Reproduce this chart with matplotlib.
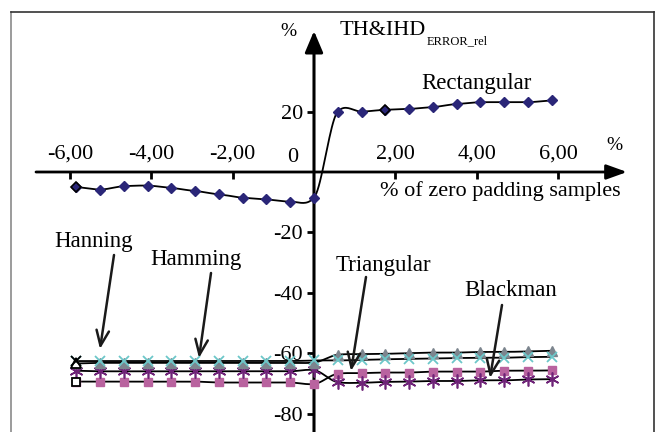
import matplotlib
matplotlib.use("Agg")
import matplotlib.pyplot as plt
from matplotlib.lines import Line2D
import numpy as np

plt.rcParams['font.family'] = ['Liberation Serif', 'DejaVu Serif']

# x positions: % of zero padding samples (21 points, -10..10 steps)
x = np.arange(-10, 11) * 0.584

rectangular = [-5.0, -5.8, -4.7, -4.5, -5.3, -6.3, -7.4, -8.5, -9.1, -9.8, -8.5,
               20.0, 20.0, 20.6, 20.9, 21.5, 22.5, 23.1, 23.1, 23.1, 23.7]
hanning = [-62.6, -62.6, -62.6, -62.6, -62.6, -62.6, -62.6, -62.6, -62.6, -62.6, -62.4,
           -62.4, -62.2, -62.0, -61.9, -61.8, -61.6, -61.5, -61.5, -61.3, -61.2]
hamming = [-63.4, -63.2, -63.2, -63.2, -63.2, -63.2, -63.2, -63.2, -63.2, -63.2, -63.1,
           -60.5, -60.3, -60.2, -60.0, -59.8, -59.8, -59.6, -59.6, -59.4, -59.2]
triangular = [-69.4, -69.4, -69.4, -69.4, -69.4, -69.4, -69.7, -69.7, -69.7, -69.7, -70.2,
              -66.8, -66.6, -66.4, -66.4, -66.1, -66.1, -66.1, -65.8, -65.8, -65.7]
blackman = [-65.8, -66.0, -66.0, -66.0, -66.0, -66.0, -66.0, -66.0, -66.0, -66.0, -65.6,
            -69.6, -69.8, -69.5, -69.4, -69.2, -69.2, -69.0, -69.0, -68.7, -68.6]

x_ticks = [-6, -4, -2, 2, 4, 6]
x_tick_labels = ["-6,00", "-4,00", "-2,00", "2,00", "4,00", "6,00"]
y_ticks = [20, -20, -40, -60, -80]
y_tick_labels = ["20", "-20", "-40", "-60", "-80"]


def smooth(xs, ys, n=20, tension=0.6):
    # cardinal spline through the points, like excel smoothed lines
    xs = np.asarray(xs, float)
    ys = np.asarray(ys, float)
    px = np.concatenate([[2 * xs[0] - xs[1]], xs, [2 * xs[-1] - xs[-2]]])
    py = np.concatenate([[2 * ys[0] - ys[1]], ys, [2 * ys[-1] - ys[-2]]])
    outx, outy = [], []
    t = np.linspace(0, 1, n, endpoint=False)
    for i in range(1, len(px) - 2):
        p0, p1, p2, p3 = py[i - 1], py[i], py[i + 1], py[i + 2]
        m1 = tension * (p2 - p0) / 2
        m2 = tension * (p3 - p1) / 2
        h00 = 2 * t**3 - 3 * t**2 + 1
        h10 = t**3 - 2 * t**2 + t
        h01 = -2 * t**3 + 3 * t**2
        h11 = t**3 - t**2
        outy.extend(h00 * p1 + h10 * m1 + h01 * p2 + h11 * m2)
        outx.extend(px[i] + t * (px[i + 1] - px[i]))
    outx.append(xs[-1])
    outy.append(ys[-1])
    return np.array(outx), np.array(outy)


W, H = 660, 432
x0_px, y0_px = 314, 172
sx, sy = 40.67, 3.02

fig = plt.figure(figsize=(6.6, 4.32), dpi=100)
ax = fig.add_axes([0, 0, 1, 1])
ax.set_xlim(-x0_px / sx, (W - x0_px) / sx)
ax.set_ylim(-(H - y0_px) / sy, y0_px / sy)

# lines
for ys in [hanning, hamming, triangular, blackman, rectangular]:
    cx, cy = smooth(x, ys)
    ax.plot(cx, cy, color='black', lw=1.3, zorder=3)

ax.plot(x, triangular, ls='none', marker='s', ms=6, color='#b9639f', zorder=4)
ax.plot(x, blackman, ls='none', marker=(6, 2, 0), ms=10, mew=1.2, color='#6e2377', zorder=4)
ax.plot(x, hamming, ls='none', marker='^', ms=7, color='#7c858e', zorder=4)
ax.plot(x, hanning, ls='none', marker='x', ms=7, mew=1.3, color='#6cc7c9', zorder=5)
ax.plot(x, rectangular, ls='none', marker='D', ms=5.5, color='#2a2678', zorder=5)

# highlighted points
ax.plot(x[0], hamming[0], ls='none', marker='^', ms=7, mfc='white', mec='black', mew=1.3, zorder=6)
ax.plot(x[0], triangular[0], ls='none', marker='s', ms=6, mfc='white', mec='black', mew=1.3, zorder=6)
ax.plot(x[0], hanning[0], ls='none', marker='x', ms=7, mew=1.3, color='black', zorder=6)
ax.plot([x[0], x[13]], [rectangular[0], rectangular[13]], ls='none', marker='D', ms=5.5,
        mfc='#2a2678', mec='black', mew=1.2, zorder=6)

# axes through the origin
ax.spines['right'].set_visible(False)
for side in ['left', 'bottom', 'top']:
    ax.spines[side].set_color('none')
ax.spines['left'].set_position(('data', 0))
ax.spines['bottom'].set_position(('data', 0))
ax.spines['top'].set_position(('data', 0))

ax.set_xticks(x_ticks)
ax.set_xticklabels(x_tick_labels)
ax.xaxis.set_tick_params(which='both', bottom=True, top=False, labelbottom=False,
                         labeltop=True, direction='out', length=5, width=2,
                         labelsize=16, pad=1)
ax.set_yticks(y_ticks)
ax.set_yticklabels(y_tick_labels)
ax.yaxis.set_tick_params(left=True, right=False, direction='out', length=5, width=2,
                         labelsize=16, pad=3)

ax.annotate('', xy=(0, (y0_px - 31) / sy), xytext=(0, -(H - y0_px) / sy - 1),
            arrowprops=dict(arrowstyle='-|>,head_length=1.3,head_width=0.55',
                            mutation_scale=10, color='black', lw=2.2,
                            shrinkA=0, shrinkB=0), zorder=2)
ax.annotate('', xy=((627 - x0_px) / sx, 0), xytext=((36 - x0_px) / sx, 0),
            arrowprops=dict(arrowstyle='-|>,head_length=1.25,head_width=0.45',
                            mutation_scale=10, color='black', lw=2,
                            shrinkA=0, shrinkB=0), zorder=2)


# labels
def px(xp, yp):
    return ((xp - x0_px) / sx, (y0_px - yp) / sy)


ax.text(*px(293, 158), "0", fontsize=16, ha='center', va='center')
ax.text(*px(288, 32), "%", fontsize=14, ha='center', va='center')
ax.text(*px(614, 146), "%", fontsize=14, ha='center', va='center')
ax.text(*px(500, 191), "% of zero padding samples", fontsize=16, ha='center', va='center')
ax.text(*px(476, 84), "Rectangular", fontsize=16.5, ha='center', va='center')
title = ax.text(*px(340, 35), "TH&IHD", fontsize=16, ha='left', va='baseline')
ax.annotate("ERROR_rel", xy=(1, 0), xycoords=title, xytext=(0, -3),
            textcoords='offset points', fontsize=9, ha='left', va='baseline')

pointers = [
    ("Hanning", (94, 241), (114, 255), (100, 349)),
    ("Hamming", (196, 259), (211, 273), (199, 358)),
    ("Triangular", (383, 266), (366, 277), (351, 371)),
    ("Blackman", (511, 290), (502, 305), (490, 378)),
]
for name, lab, start, tip in pointers:
    ax.text(*px(*lab), name, fontsize=16.5, ha='center', va='center')
    ax.annotate('', xy=px(*tip), xytext=px(*start),
                arrowprops=dict(arrowstyle='->,head_length=1.1,head_width=0.45',
                                mutation_scale=10, color='#1a1a1a', lw=1.8,
                                shrinkA=0, shrinkB=0), zorder=7)

# outer frame
fig.add_artist(Line2D([11 / W, 11 / W], [0, 1 - 12 / H], color='#8a8a8a', lw=1.2))
fig.add_artist(Line2D([11 / W, 654 / W], [1 - 12 / H, 1 - 12 / H], color='#333333', lw=1.2))
fig.add_artist(Line2D([654 / W, 654 / W], [0, 1 - 12 / H], color='#333333', lw=1.2))

fig.savefig("out.png", dpi=100)
